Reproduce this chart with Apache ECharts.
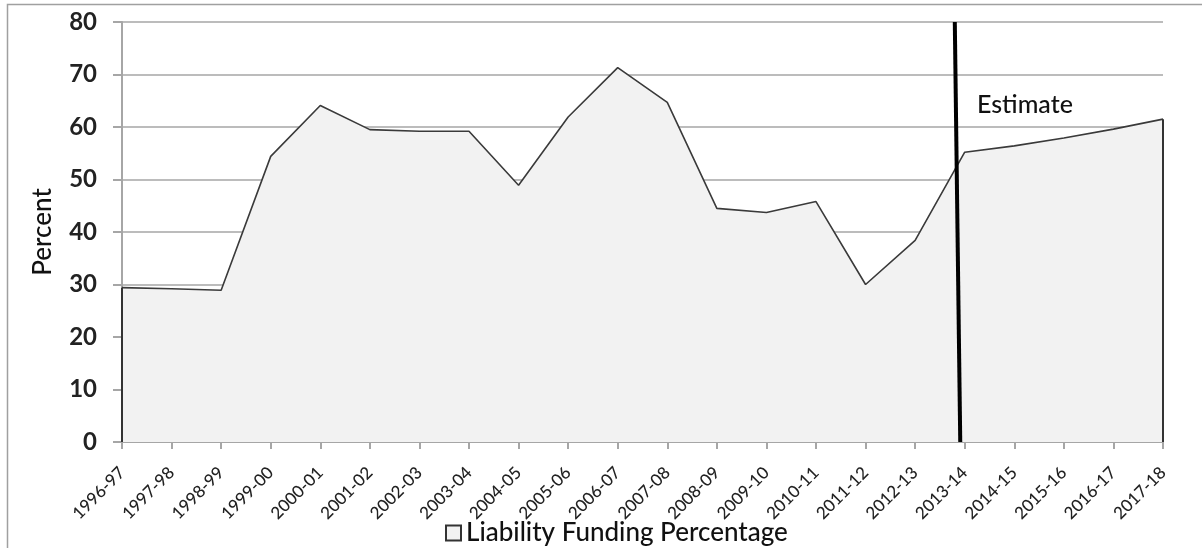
<!DOCTYPE html>
<html>
<head>
<meta charset="utf-8">
<script src="https://cdn.jsdelivr.net/npm/echarts@6/dist/echarts.min.js"></script>
<style>
  html, body { margin: 0; padding: 0; background: #fff; }
  #chart { width: 1202px; height: 548px; }
</style>
</head>
<body>
<div id="chart"></div>
<script>
const years = ['1996-97', '1997-98', '1998-99', '1999-00', '2000-01', '2001-02', '2002-03',
  '2003-04', '2004-05', '2005-06', '2006-07', '2007-08', '2008-09', '2009-10', '2010-11',
  '2011-12', '2012-13', '2013-14', '2014-15', '2015-16', '2016-17', '2017-18']
const fundingPct = [29.4, 29.2, 28.9, 54.4, 64.1, 59.5, 59.2, 59.2, 48.9, 61.9, 71.3, 64.7,
  44.5, 43.7, 45.8, 30.0, 38.4, 55.2, 56.4, 57.9, 59.6, 61.5]
const yTicks = [0, 10, 20, 30, 40, 50, 60, 70, 80]
// estimate divider, in category-index units (slightly slanted)
const estimateX = [16.80, 16.91]
const estimateY = [80, 0]

const font = 'Lato, "Open Sans", sans-serif'
const chart = echarts.init(document.getElementById('chart'))
const last = years.length - 1

const option = {
  backgroundColor: '#fff',
  animation: false,
  grid: { left: 122, right: 39, top: 22, bottom: 106 },
  legend: {
    left: 440,
    top: 515,
    icon: 'rect',
    itemWidth: 15,
    itemHeight: 15,
    itemGap: 8,
    textStyle: { fontFamily: font, fontSize: 26, color: '#111', fontWeight: 500 },
    data: ['Liability Funding Percentage']
  },
  xAxis: [{
    type: 'category',
    data: years,
    boundaryGap: false,
    axisLine: { lineStyle: { color: '#a6a6a6', width: 2 } },
    axisTick: { show: true, length: 7, alignWithLabel: true, lineStyle: { color: '#a6a6a6', width: 2 } },
    axisLabel: {
      interval: 0,
      rotate: 45,
      margin: 28,
      fontFamily: font,
      fontSize: 17,
      fontWeight: 500,
      color: '#222'
    },
    splitLine: { show: false }
  }, {
    type: 'value',
    min: 0,
    max: last,
    show: false
  }],
  yAxis: {
    type: 'value',
    min: yTicks[0],
    max: yTicks[yTicks.length - 1],
    interval: 10,
    name: 'Percent',
    nameLocation: 'middle',
    nameGap: 66,
    nameTextStyle: { fontFamily: font, fontSize: 26, color: '#111', fontWeight: 500 },
    axisLine: { show: true, lineStyle: { color: '#a6a6a6', width: 2 } },
    axisTick: { show: true, length: 9, lineStyle: { color: '#a6a6a6', width: 2 } },
    axisLabel: { fontFamily: font, fontSize: 24, fontWeight: 'bold', color: '#222', margin: 25 },
    splitLine: { lineStyle: { color: '#a6a6a6', width: 1.5 } }
  },
  graphic: [{
    type: 'rect',
    shape: { x: 7.5, y: 4.5, width: 1300, height: 700 },
    style: { fill: 'none', stroke: '#a0a0a0', lineWidth: 1.5 },
    silent: true
  }, {
    type: 'text',
    left: 977,
    top: 92,
    style: { text: 'Estimate', fontFamily: font, fontSize: 25, fontWeight: 500, fill: '#111' }
  }],
  series: [{
    name: 'Liability Funding Percentage',
    type: 'line',
    data: fundingPct,
    symbol: 'none',
    lineStyle: { color: '#3a3a3a', width: 1.6 },
    itemStyle: { color: '#f2f2f2', borderColor: '#333', borderWidth: 1.5 },
    areaStyle: { color: '#f2f2f2', opacity: 1 },
    markLine: {
      silent: true,
      symbol: 'none',
      label: { show: false },
      lineStyle: { color: '#333', width: 2, type: 'solid' },
      data: [
        [{ coord: [0, 0] }, { coord: [0, fundingPct[0]] }],
        [{ coord: [last, 0] }, { coord: [last, fundingPct[last]] }]
      ]
    },
    z: 2
  }, {
    name: 'estimate',
    type: 'line',
    xAxisIndex: 1,
    data: estimateX.map((x, i) => [x, estimateY[i]]),
    symbol: 'none',
    lineStyle: { color: '#000', width: 4 },
    z: 5
  }]
}
chart.setOption(option)
</script>
</body>
</html>
